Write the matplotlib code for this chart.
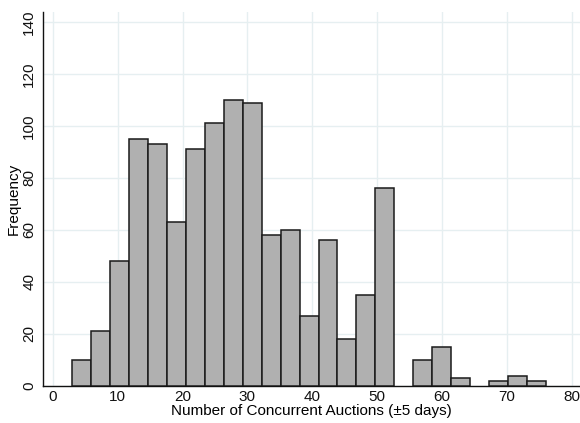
import matplotlib
matplotlib.use('Agg')
import matplotlib.pyplot as plt
import numpy as np

# histogram counts (25 bins from 3 to 76)
bin_min = 3
bin_max = 76
counts = [10, 21, 48, 95, 93, 63, 91, 101, 110, 109, 58, 60, 27, 56, 18, 35, 76,
          0, 10, 15, 3, 0, 2, 4, 2]
x_ticks = [0, 10, 20, 30, 40, 50, 60, 70, 80]
y_ticks = [0, 20, 40, 60, 80, 100, 120, 140]

plt.rcParams['font.family'] = ['Liberation Sans', 'DejaVu Sans']

fig = plt.figure(figsize=(5.8, 4.23), dpi=100)
ax = fig.add_axes([43.3 / 580, 37 / 423, 1 - 43.3 / 580, (386 - 12) / 423])

edges = np.linspace(bin_min, bin_max, len(counts) + 1)
counts = np.array(counts)
keep = counts > 0
ax.bar(edges[:-1][keep], counts[keep], width=np.diff(edges)[keep], align='edge',
       color='#b0b0b0', edgecolor='#1a1a1a', linewidth=1.1, zorder=3)

ax.set_xlim(-1.45, 81.25)
ax.set_ylim(0, 143.8)
ax.set_xticks(x_ticks)
ax.set_yticks(y_ticks)
ax.set_yticklabels([str(v) for v in y_ticks], rotation=90, va='center')
ax.tick_params(axis='both', length=0, labelsize=11, colors='#111111')
ax.tick_params(axis='x', pad=3)
ax.tick_params(axis='y', pad=5)

ax.grid(True, color='#e6eff1', linewidth=1.0, zorder=0)
ax.set_axisbelow(True)
for side in ['top', 'right']:
    ax.spines[side].set_visible(False)
for side in ['left', 'bottom']:
    ax.spines[side].set_color('#111111')
    ax.spines[side].set_linewidth(1.0)

ax.set_xlabel('Number of Concurrent Auctions (\u00b15 days)', fontsize=11, labelpad=0)
ax.set_ylabel('Frequency', fontsize=11, labelpad=1)

plt.savefig('out.png', dpi=100)
